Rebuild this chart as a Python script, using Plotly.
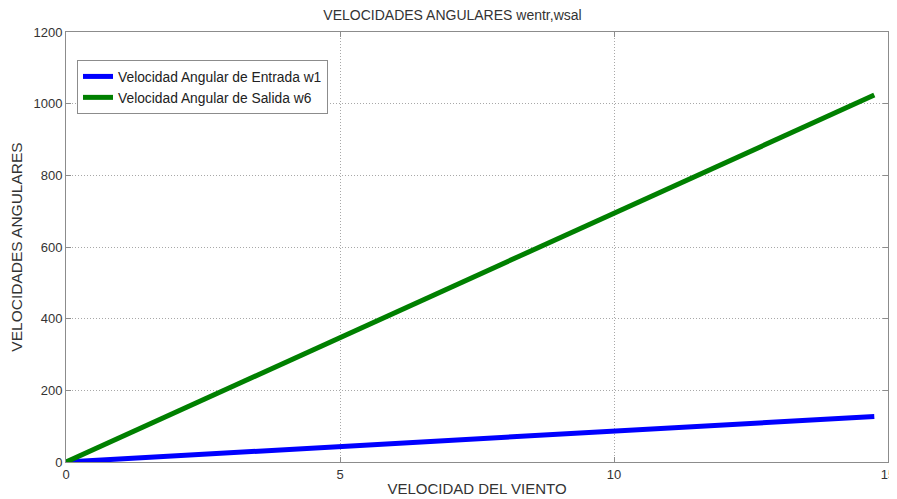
import plotly.graph_objects as go

viento = [0, 5, 10, 14.75]
w1 = [0, 43, 86, 127]
w6 = [0, 347, 694, 1024]
x_ticks = [0, 5, 10, 15]
y_ticks = [0, 200, 400, 600, 800, 1000, 1200]

fig = go.Figure()
fig.add_trace(go.Scatter(x=viento, y=w1, mode="lines", name="Velocidad Angular de Entrada w1",
                         line=dict(color="#0000ff", width=5)))
fig.add_trace(go.Scatter(x=viento, y=w6, mode="lines", name="Velocidad Angular de Salida w6",
                         line=dict(color="#008000", width=5)))

axis_common = dict(showline=True, linecolor="#8c8c8c", linewidth=1, mirror="ticks",
                   ticks="inside", ticklen=5, tickcolor="#8c8c8c",
                   showgrid=True, gridcolor="#a8a8a8", griddash="1px,2px", gridwidth=1,
                   zeroline=False, automargin=False, ticklabeloverflow="allow",
                   tickfont=dict(size=13, color="#333333"))

fig.update_layout(
    width=889, height=491,
    paper_bgcolor="white", plot_bgcolor="white",
    font=dict(family="Liberation Sans, Arial, sans-serif", size=13, color="#333333"),
    margin=dict(l=58, r=9, t=24, b=37, autoexpand=False),
    title=dict(text="VELOCIDADES ANGULARES wentr,wsal", x=0.5, xanchor="center",
               yref="container", y=0.986, yanchor="middle", automargin=False,
               font=dict(size=14, color="#333333")),
    xaxis=dict(range=[0, 15], tickvals=x_ticks,
               title=dict(text="VELOCIDAD DEL VIENTO", standoff=2, font=dict(size=15)),
               **axis_common),
    yaxis=dict(range=[0, 1200], tickvals=y_ticks,
               title=dict(text="VELOCIDADES ANGULARES", standoff=8, font=dict(size=15.5)),
               **axis_common),
    legend=dict(x=0.0134, y=0.935, xanchor="left", yanchor="top", bgcolor="white",
                bordercolor="#8c8c8c", borderwidth=1, font=dict(size=13.8, color="#222222"),
                tracegroupgap=0, itemwidth=30),
    showlegend=True,
)

fig.write_html("out.html")
